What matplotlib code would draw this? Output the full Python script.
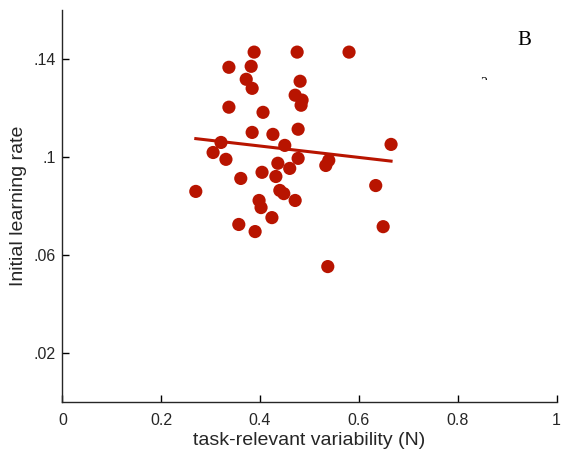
import numpy as np
import matplotlib.pyplot as plt
from matplotlib.transforms import Bbox, TransformedBbox

plt.rcParams["font.family"] = ["Liberation Sans", "DejaVu Sans"]

# Datos
variability = [0.388, 0.475, 0.580, 0.337, 0.382, 0.372, 0.384, 0.481, 0.471, 0.485,
               0.483, 0.337, 0.406, 0.384, 0.426, 0.477, 0.321, 0.450, 0.305, 0.665,
               0.331, 0.477, 0.539, 0.533, 0.436, 0.460, 0.361, 0.404, 0.432, 0.270,
               0.440, 0.448, 0.398, 0.402, 0.471, 0.634, 0.424, 0.357, 0.390, 0.649,
               0.537]
learning_rate = [0.1428, 0.1428, 0.1428, 0.1366, 0.1370, 0.1317, 0.1280, 0.1309, 0.1252, 0.1232,
                 0.1211, 0.1203, 0.1182, 0.1100, 0.1092, 0.1113, 0.1059, 0.1047, 0.1018, 0.1051,
                 0.0990, 0.0994, 0.0986, 0.0965, 0.0974, 0.0953, 0.0912, 0.0937, 0.0920, 0.0859,
                 0.0863, 0.0850, 0.0822, 0.0793, 0.0822, 0.0883, 0.0752, 0.0724, 0.0695, 0.0715,
                 0.0552]
y_ticks = [0.02, 0.06, 0.1, 0.14]
y_labels = [".02", ".06", ".1", ".14"]
x_ticks = [0, 0.2, 0.4, 0.6, 0.8, 1]
x_labels = ["0", "0.2", "0.4", "0.6", "0.8", "1"]

red = "#b81400"

fig = plt.figure(figsize=(5.64, 4.59), dpi=100)
ax = fig.add_axes([0.1105, 0.1248, 0.8765, 0.8534])

ax.scatter(variability, learning_rate, s=90, color=red, edgecolors="none", zorder=3)

# Recta de regresión
x = np.array(variability)
slope, intercept = np.polyfit(x, learning_rate, 1)
xs = np.array([x.min(), x.max()])
ax.plot(xs, slope * xs + intercept, color=red, linewidth=2.2, zorder=2)

# Texto del panel
ax.text(0.934, 0.1475, "B", fontsize=15, family="Liberation Serif",
        ha="center", va="center")
# resto recortado de un texto (solo se ve la parte de arriba)
t = ax.text(0.853, 0.1298, "2", fontsize=10, family="Liberation Serif",
            ha="center", va="center")
t.set_clip_on(True)
t.set_clip_box(TransformedBbox(Bbox([[0.8, 0.1314], [0.9, 0.14]]), ax.transData))

ax.set_xlim(0, 1)
ax.set_ylim(0, 0.16)
ax.set_xticks(x_ticks)
ax.set_xticklabels(x_labels)
ax.set_yticks(y_ticks)
ax.set_yticklabels(y_labels)
ax.tick_params(direction="in", length=5, width=1, labelsize=11.5,
               labelcolor="#262626")
ax.tick_params(axis="x", pad=8)
ax.tick_params(axis="y", pad=5)
ax.spines["top"].set_visible(False)
ax.spines["right"].set_visible(False)
for s in ["left", "bottom"]:
    ax.spines[s].set_linewidth(1)
    ax.spines[s].set_color("#262626")

ax.set_xlabel("task-relevant variability (N)", fontsize=14, color="#262626", labelpad=3)
ax.set_ylabel("Initial learning rate", fontsize=14, color="#262626", labelpad=4)

fig.savefig("out.png", dpi=100)
